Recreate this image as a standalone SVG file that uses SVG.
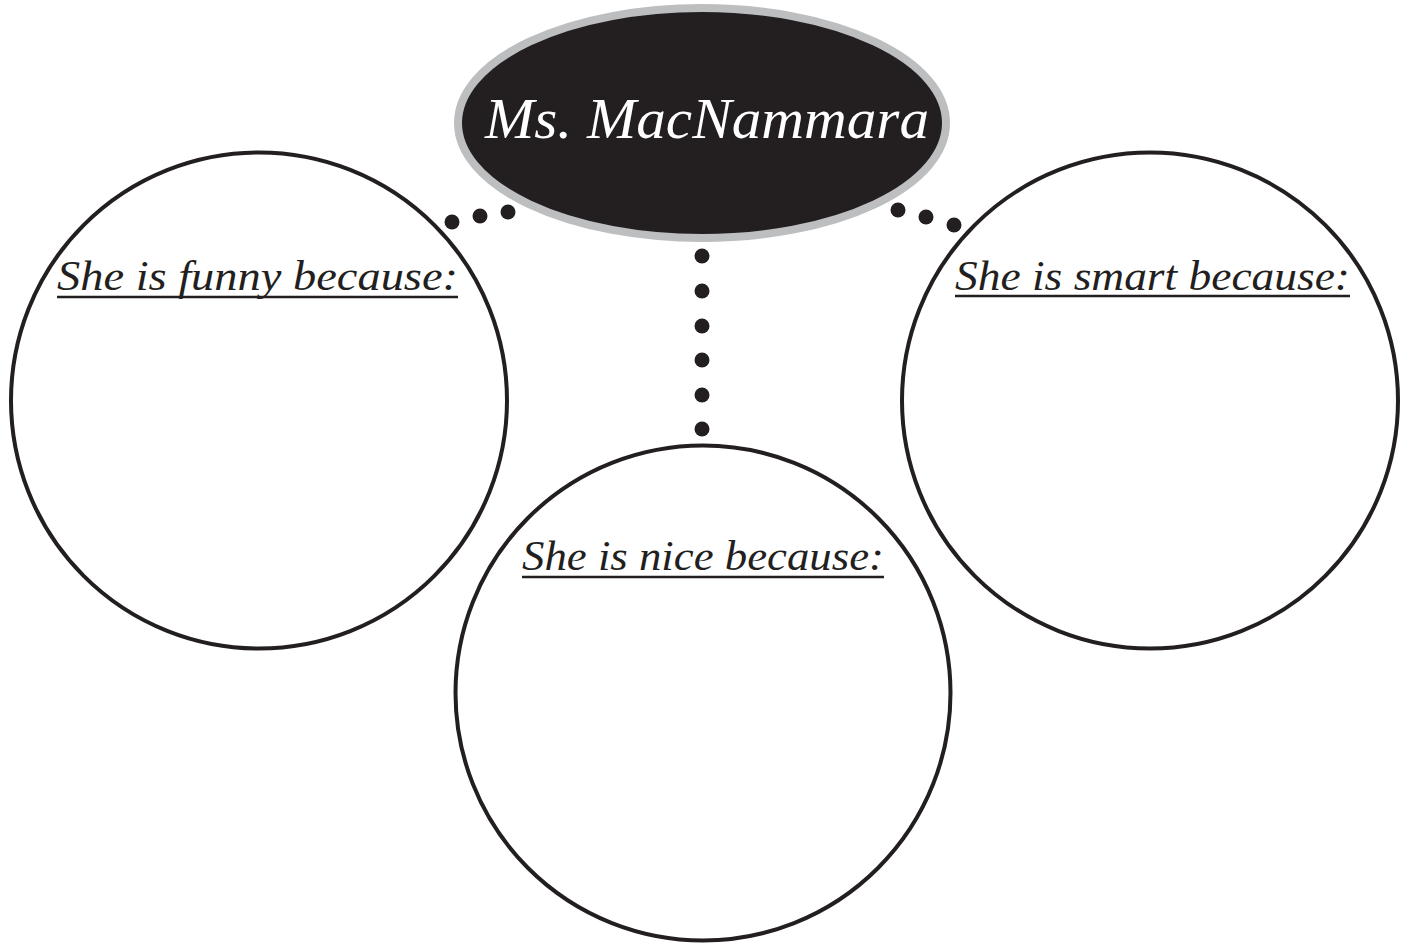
<svg xmlns="http://www.w3.org/2000/svg" width="1407" height="946" viewBox="0 0 1407 946">
<style>
.circ{fill:#fff;stroke:#231f20;stroke-width:4}
.dot{fill:#231f20}
.lbl{font-family:"Liberation Serif","DejaVu Serif",serif;font-style:italic;font-size:42px;fill:#231f20}
.ul{stroke:#231f20;stroke-width:2.5}
.title{font-family:"Liberation Serif","DejaVu Serif",serif;font-style:italic;font-size:58px;fill:#fff}
</style>
<rect width="1407" height="946" fill="#fff"/>
<g id="connectors">
<circle class="dot" cx="452" cy="222" r="7.5"/>
<circle class="dot" cx="480" cy="216" r="7.5"/>
<circle class="dot" cx="508" cy="212" r="7.5"/>
<circle class="dot" cx="898" cy="210" r="7.5"/>
<circle class="dot" cx="926" cy="217" r="7.5"/>
<circle class="dot" cx="954" cy="225" r="7.5"/>
<circle class="dot" cx="702" cy="256" r="7.5"/>
<circle class="dot" cx="702" cy="291" r="7.5"/>
<circle class="dot" cx="702" cy="326" r="7.5"/>
<circle class="dot" cx="702" cy="360" r="7.5"/>
<circle class="dot" cx="702" cy="395" r="7.5"/>
<circle class="dot" cx="702" cy="429" r="7.5"/>
</g>
<g id="title">
<ellipse cx="702" cy="123" rx="244" ry="115" fill="#231f20" stroke="#bcbec0" stroke-width="8"/>
<text class="title" x="707" y="138" text-anchor="middle" textLength="444" lengthAdjust="spacingAndGlyphs">Ms. MacNammara</text>
</g>
<g id="funny">
<circle class="circ" cx="259" cy="400.5" r="248"/>
<text class="lbl" x="57" y="290" textLength="401" lengthAdjust="spacingAndGlyphs">She is funny because:</text>
<line class="ul" x1="57" y1="297" x2="458" y2="297"/>
</g>
<g id="smart">
<circle class="circ" cx="1150" cy="400.5" r="248"/>
<text class="lbl" x="955" y="290" textLength="395" lengthAdjust="spacingAndGlyphs">She is smart because:</text>
<line class="ul" x1="955" y1="296" x2="1350" y2="296"/>
</g>
<g id="nice">
<circle class="circ" cx="703" cy="693" r="247.5"/>
<text class="lbl" x="522" y="570" textLength="362" lengthAdjust="spacingAndGlyphs">She is nice because:</text>
<line class="ul" x1="522" y1="577" x2="884" y2="577"/>
</g>
</svg>
